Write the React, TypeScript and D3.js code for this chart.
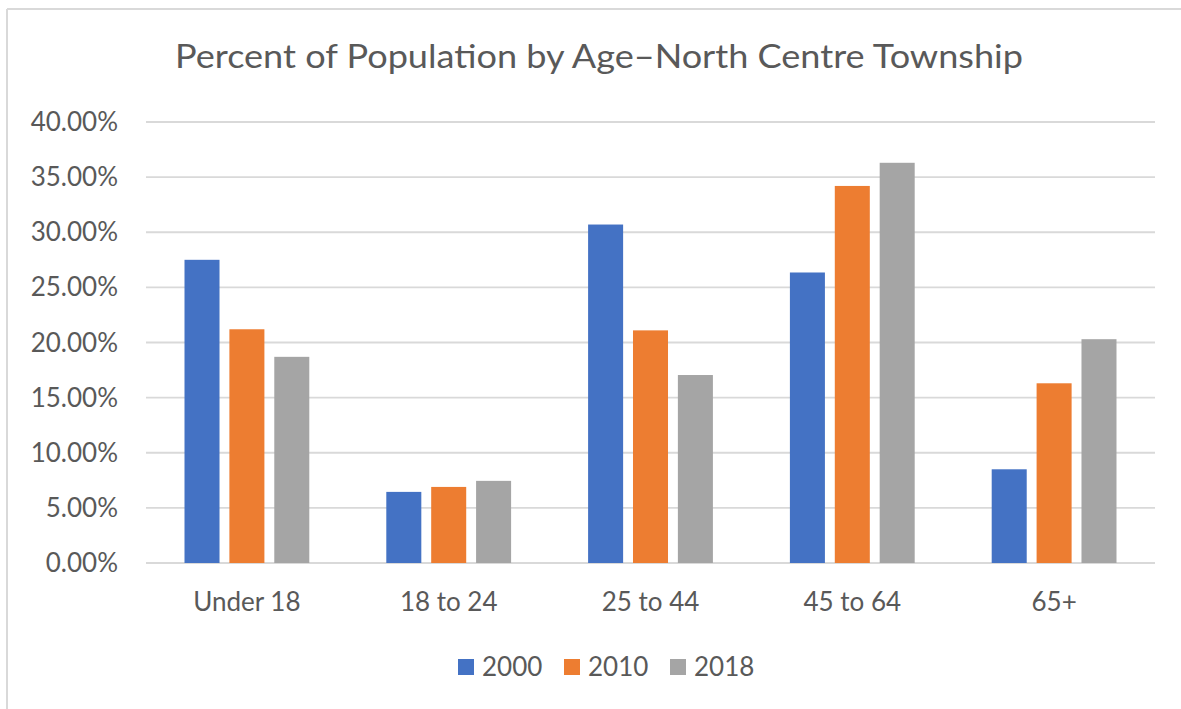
import React from "react";
import * as d3 from "d3";

const categories = ["Under 18", "18 to 24", "25 to 44", "45 to 64", "65+"];
const seriesNames = ["2000", "2010", "2018"];
const values2000 = [0.275, 0.0645, 0.307, 0.2635, 0.085];
const values2010 = [0.212, 0.069, 0.211, 0.342, 0.163];
const values2018 = [0.187, 0.0745, 0.1705, 0.363, 0.203];
const yTicks = [0, 0.05, 0.1, 0.15, 0.2, 0.25, 0.3, 0.35, 0.4];
const colors = ["#4472C4", "#ED7D31", "#A5A5A5"];
const title = "Percent of Population by Age\u2013North Centre Township";

const W = 1181;
const H = 709;
const FONT = "Lato, 'Open Sans', sans-serif";
const TEXT = "#595959";

export default function App() {
  const series = [values2000, values2010, values2018];
  const x0 = d3.scaleBand<string>().domain(categories).range([146, 1155]).paddingInner(0).paddingOuter(0);
  const bw = x0.bandwidth();
  const x1 = d3.scaleBand<string>().domain(seriesNames).range([38.5, bw - 38.5]).paddingInner(0.22).paddingOuter(0);
  const y = d3.scaleLinear().domain([0, 0.4]).range([563, 122]);
  const fmt = d3.format(".2%");

  const legendItems = [
    { name: seriesNames[0], sx: 458, tx: 482 },
    { name: seriesNames[1], sx: 564, tx: 588 },
    { name: seriesNames[2], sx: 670, tx: 694 },
  ];

  return (
    <svg width={W} height={H} style={{ position: "absolute", left: 0, top: 0, background: "#fff" }} fontFamily={FONT}>
      <rect x={0} y={0} width={W} height={H} fill="#fff" />
      <line x1={7} y1={9} x2={W} y2={9} stroke="#d9d9d9" strokeWidth={2} />
      <line x1={7} y1={9} x2={7} y2={H} stroke="#d9d9d9" strokeWidth={2} />

      <text x={599} y={68} textAnchor="middle" fontSize={33} fill={TEXT} textLength={848} lengthAdjust="spacingAndGlyphs">
        {title}
      </text>

      {yTicks.map((t) => (
        <g key={t}>
          <line x1={146} x2={1155} y1={y(t)} y2={y(t)} stroke="#d9d9d9" strokeWidth={t === 0 ? 2 : 1.8} />
          <text x={118} y={y(t)} dy="0.35em" textAnchor="end" fontSize={26} fill={TEXT}>
            {fmt(t)}
          </text>
        </g>
      ))}

      {categories.map((c, i) => (
        <g key={c} transform={`translate(${x0(c)},0)`}>
          {series.map((vals, s) => (
            <rect
              key={s}
              x={x1(seriesNames[s])}
              y={y(vals[i])}
              width={x1.bandwidth()}
              height={y(0) - y(vals[i])}
              fill={colors[s]}
            />
          ))}
          <text x={bw / 2} y={611} textAnchor="middle" fontSize={26} fill={TEXT}>
            {c}
          </text>
        </g>
      ))}

      {legendItems.map((l, i) => (
        <g key={l.name}>
          <rect x={l.sx} y={659} width={16} height={16} fill={colors[i]} />
          <text x={l.tx} y={676} fontSize={26} fill={TEXT}>
            {l.name}
          </text>
        </g>
      ))}
    </svg>
  );
}
